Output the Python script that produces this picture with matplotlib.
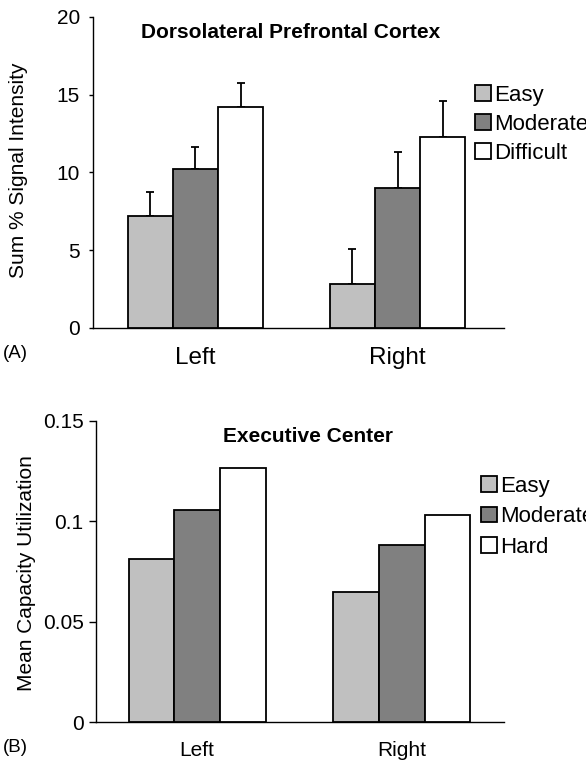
import numpy as np
import matplotlib
matplotlib.use('Agg')
import matplotlib.pyplot as plt

plt.rcParams['font.family'] = ['Liberation Sans', 'DejaVu Sans']

# ---- data ----
groups = ['Left', 'Right']
top_labels = ['Easy', 'Moderate', 'Difficult']
top_means = [[7.2, 10.2, 14.2],      # Left
             [2.8, 9.0, 12.3]]       # Right
top_errs = [[1.55, 1.45, 1.55],
            [2.3, 2.35, 2.3]]
bot_labels = ['Easy', 'Moderate', 'Hard']
bot_means = [[0.0812, 0.1056, 0.1265],
             [0.0648, 0.0882, 0.1031]]
colors = ['#c0c0c0', '#808080', '#ffffff']

fig = plt.figure(figsize=(5.86, 7.66), dpi=100)
W, H = 586, 766


def panel(rect, means, errs, labels, ylim, yticks, yticklabels, ylabel, title, xlim,
          leg_xy, leg_space, tag, tag_y, title_x, ytick_fs, xtick_fs, ytick_len, ytick_pad, ylab_xy):
    ax = fig.add_axes(rect)
    x = np.arange(len(groups))
    bw = 0.223
    handles = []
    for j in range(3):
        vals = [means[g][j] for g in range(len(groups))]
        pos = x + (j - 1) * bw
        b = ax.bar(pos, vals, bw, color=colors[j], edgecolor='black', linewidth=1.3, zorder=3)
        handles.append(b)
        if errs is not None:
            e = [errs[g][j] for g in range(len(groups))]
            ax.errorbar(pos, vals, yerr=[np.zeros(len(e)), e], fmt='none', ecolor='black',
                        elinewidth=1.3, capsize=3, capthick=1.3, zorder=2)
    ax.set_xlim(*xlim)
    ax.set_ylim(*ylim)
    ax.set_yticks(yticks)
    ax.set_yticklabels(yticklabels)
    ax.set_xticks(x)
    ax.set_xticklabels(groups)
    ax.spines['right'].set_visible(False)
    ax.spines['top'].set_visible(False)
    for s in ['left', 'bottom']:
        ax.spines[s].set_linewidth(1.0)
    ax.tick_params(axis='y', length=ytick_len, width=1.0, labelsize=ytick_fs, pad=ytick_pad)
    ax.tick_params(axis='x', length=0, labelsize=xtick_fs, pad=14)
    ax.set_ylabel(ylabel, fontsize=15)
    ax.yaxis.set_label_coords(*ylab_xy)
    ax.text(title_x, 0.95, title, transform=ax.transAxes, ha='center', va='center',
            fontsize=15, fontweight='bold')
    ax.legend(handles, labels, loc='upper left', bbox_to_anchor=(leg_xy[0] / W, 1 - leg_xy[1] / H),
              bbox_transform=fig.transFigure, frameon=False, fontsize=16, handlelength=0.7,
              handleheight=0.7, handletextpad=0.15, labelspacing=leg_space, borderpad=0, borderaxespad=0)
    fig.text(3 / W, 1 - tag_y / H, tag, fontsize=13.5, va='center', ha='left')
    return ax


panel([93 / W, 1 - 328 / H, 411 / W, 311 / H], top_means, top_errs, top_labels,
      (0, 20), [0, 5, 10, 15, 20], ['0', '5', '10', '15', '20'],
      'Sum % Signal Intensity', 'Dorsolateral Prefrontal Cortex', (-0.507, 1.527),
      (475, 85), 0.35, '(A)', 354, 0.48, 15, 17.5, 3, 6.5, (-0.158, 0.508))

panel([96 / W, 1 - 722 / H, 408 / W, 301 / H], bot_means, None, bot_labels,
      (0, 0.15), [0, 0.05, 0.1, 0.15], ['0', '0.05', '0.1', '0.15'],
      'Mean Capacity Utilization', 'Executive Center', (-0.494, 1.5),
      (481, 476), 0.42, '(B)', 747, 0.52, 15, 15, 5, 4.0, (-0.147, 0.495))

fig.savefig('out.png', dpi=100)
